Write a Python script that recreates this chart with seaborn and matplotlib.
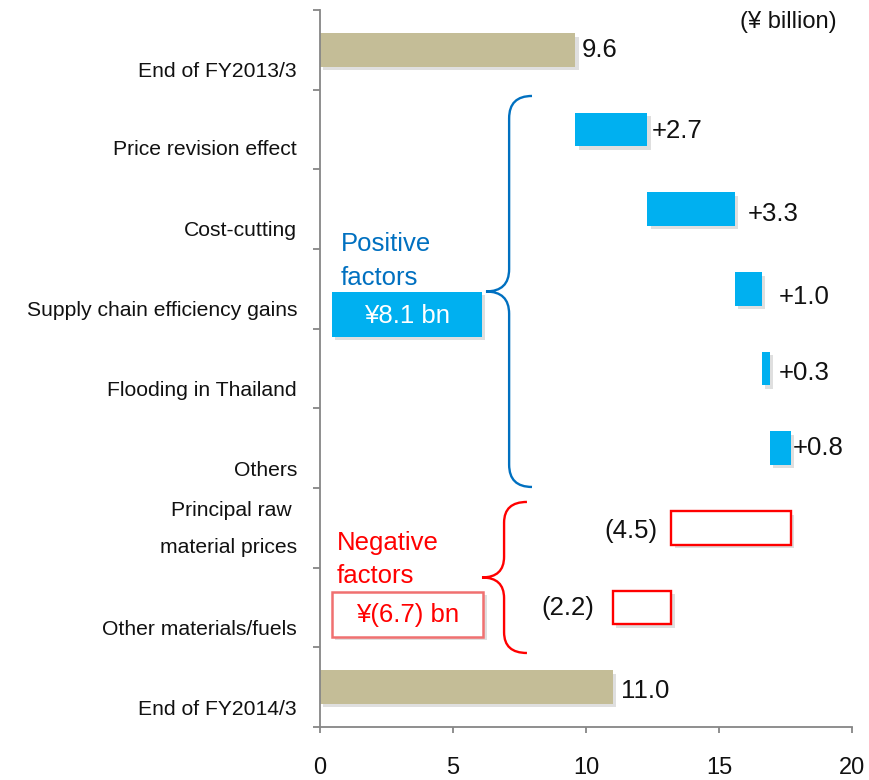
import numpy as np
import pandas as pd
import matplotlib
matplotlib.use("Agg")
import matplotlib.pyplot as plt
import seaborn as sns
from matplotlib.path import Path
from matplotlib.patches import PathPatch, Rectangle
import matplotlib.patheffects as pe

# ---------------- data ----------------
categories = [
    "End of FY2013/3",
    "Price revision effect",
    "Cost-cutting",
    "Supply chain efficiency gains",
    "Flooding in Thailand",
    "Others",
    "Principal raw \nmaterial prices",
    "Other materials/fuels",
    "End of FY2014/3",
]
start_value = 9.6
changes = [2.7, 3.3, 1.0, 0.3, 0.8, -4.5, -2.2]
end_value = 11.0
value_labels = ["9.6", "+2.7", "+3.3", "+1.0", "+0.3", "+0.8", "(4.5)", "(2.2)", "11.0"]
x_ticks = [0, 5, 10, 15, 20]
unit_label = "(¥ billion)"
pos_title, pos_total = "Positive\nfactors", "¥8.1 bn"
neg_title, neg_total = "Negative\nfactors", "¥(6.7) bn"

# ---------------- style ----------------
TAN = "#C4BD97"
CYAN = "#00B0F0"
RED = "#FF0000"
BLUE = "#0070C0"
SPINE = "#868686"
BAR_H = 0.42
PX = 0.72  # points per pixel at dpi 100

sns.set_theme(style="white")
plt.rcParams["font.family"] = ["Liberation Sans", "DejaVu Sans"]

fig = plt.figure(figsize=(8.7, 7.8), dpi=100)
ax = fig.add_axes([320 / 870, 1 - 727 / 780, 532 / 870, 717 / 780])

shadow = [pe.SimplePatchShadow(offset=(2.5, -2.5), shadow_rgbFace=(0.5, 0.5, 0.5), alpha=0.25),
          pe.Normal()]

# totals via seaborn
df_tot = pd.DataFrame({"category": [categories[0], categories[-1]],
                       "value": [start_value, end_value]})
sns.barplot(data=df_tot, x="value", y="category", order=categories, orient="h",
            color=TAN, saturation=1, width=BAR_H, ax=ax)
for p in ax.patches:
    p.set_path_effects(shadow)
    p.set_edgecolor("none")

# floating change bars
running = start_value
ends = [start_value]
for i, ch in enumerate(changes, start=1):
    left = min(running, running + ch)
    if ch >= 0:
        ax.barh(i, abs(ch), left=left, height=BAR_H, color=CYAN,
                edgecolor="none", path_effects=shadow, zorder=3)
    else:
        ax.barh(i, abs(ch), left=left, height=BAR_H, facecolor="white",
                edgecolor=RED, linewidth=1.7, path_effects=shadow, zorder=3)
    running += ch
    ends.append(running)

# value labels
gaps = [6, 5, 13, 17, 9, 2, 14, 18, 8]
dys = [0, 2, 5, 8, 4, 0, 3, 1, 4]
for i, lab in enumerate(value_labels):
    if i == 0:
        xa, ha, sgn = start_value, "left", 1
    elif i == len(categories) - 1:
        xa, ha, sgn = end_value, "left", 1
    else:
        ch = changes[i - 1]
        if ch >= 0:
            xa, ha, sgn = ends[i], "left", 1
        else:
            xa, ha, sgn = ends[i], "right", -1
    ax.annotate(lab, xy=(xa, i), xytext=(sgn * gaps[i] * PX, -dys[i] * PX),
                textcoords="offset points", ha=ha, va="center",
                fontsize=18.5, color="#111111", zorder=5)

# axes styling
ax.set_xlim(0, 20)
ax.set_ylim(8.5, -0.5)
ax.set_xlabel("")
ax.set_ylabel("")
for s in ["top", "right"]:
    ax.spines[s].set_visible(False)
for s in ["left", "bottom"]:
    ax.spines[s].set_color(SPINE)
    ax.spines[s].set_linewidth(1.3)

ax.set_xticks(x_ticks)
ax.set_xticklabels([str(t) for t in x_ticks])
ax.tick_params(axis="x", which="major", bottom=True, direction="out", length=4.5, width=1.3,
               color=SPINE, pad=17, labelsize=17, labelcolor="#111111")

ax.set_yticks(np.arange(-0.5, len(categories), 1.0))
ax.set_yticklabels([])
ax.tick_params(axis="y", which="major", left=True, direction="out", length=5, width=1.3,
               color=SPINE)
label_off = [0.25, 0.23, 0.24, 0.25, 0.25, 0.25, -0.12, 0.25, 0.25]
ax.set_yticks(np.arange(len(categories)) + np.array(label_off), labels=categories, minor=True)
ax.tick_params(axis="y", which="minor", left=True, length=0, pad=16.5, labelsize=15.2,
               labelcolor="#111111")
for t in ax.get_yticklabels(minor=True):
    t.set_linespacing(2.2)


# braces
def brace(x_end, x_v, x_tip, y_top, y_bot, r, color):
    y_tip = (y_top + y_bot) / 2
    verts = [(x_end, y_top), (x_v, y_top), (x_v, y_top + r),
             (x_v, y_tip - r),
             (x_v, y_tip), (x_tip, y_tip),
             (x_v, y_tip), (x_v, y_tip + r),
             (x_v, y_bot - r),
             (x_v, y_bot), (x_end, y_bot)]
    codes = [Path.MOVETO, Path.CURVE3, Path.CURVE3, Path.LINETO, Path.CURVE3, Path.CURVE3,
             Path.CURVE3, Path.CURVE3, Path.LINETO, Path.CURVE3, Path.CURVE3]
    ax.add_patch(PathPatch(Path(verts, codes), facecolor="none", edgecolor=color,
                           linewidth=1.7, clip_on=False, zorder=4))


brace(7.97, 7.11, 6.24, 0.579, 5.487, 0.28, BLUE)
brace(7.78, 6.92, 6.09, 5.675, 7.571, 0.26, RED)

# factor annotations
ax.text(0.79, 2.65, pos_title, color=BLUE, fontsize=18.5, ha="left", va="center",
        linespacing=1.57, zorder=5)
ax.add_patch(Rectangle((0.45, 3.04), 5.64, 0.56, facecolor=CYAN, edgecolor="none",
                       path_effects=shadow, zorder=4))
ax.text(3.27, 3.34, pos_total, color="white", fontsize=18.5, ha="center", va="center", zorder=5)

ax.text(0.64, 6.40, neg_title, color=RED, fontsize=18.5, ha="left", va="center",
        linespacing=1.45, zorder=5)
ax.add_patch(Rectangle((0.45, 6.805), 5.68, 0.565, facecolor="white", edgecolor="#F07070",
                       linewidth=1.8, path_effects=shadow, zorder=4))
ax.text(3.29, 7.10, neg_total, color=RED, fontsize=18.5, ha="center", va="center", zorder=5)

fig.text(837 / 870, 1 - 22 / 780, unit_label, ha="right", va="center", fontsize=17,
         color="#111111")

fig.savefig("out.png", dpi=100, facecolor="white")
